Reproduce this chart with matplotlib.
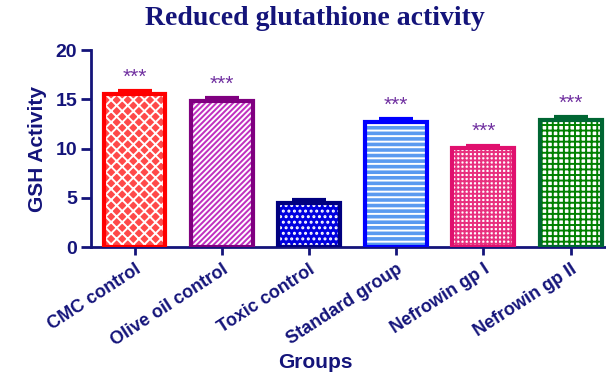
import matplotlib.pyplot as plt
import numpy as np

groups = ["CMC control", "Olive oil control", "Toxic control",
          "Standard group", "Nefrowin gp I", "Nefrowin gp II"]
gsh_mean = [15.5, 14.8, 4.5, 12.7, 10.05, 12.9]
gsh_sem = [0.3, 0.3, 0.3, 0.3, 0.2, 0.3]
significance = ["***", "***", "", "***", "***", "***"]

edge_colors = ["#ff0000", "#800080", "#000080", "#0000ff", "#e0106e", "#006633"]
fill_colors = ["#ff4a4a", "#c030c0", "#0000e0", "#5a9af0", "#ffffff", "#ffffff"]
hatch_colors = ["#ffffff", "#ffffff", "#ffffff", "#ffffff", "#e8307e", "#008000"]
hatches = ["xxx", "//////", "...", "---", "++++", "+++"]

NAVY = "#14147a"
STAR = "#7030a0"

plt.rcParams["font.family"] = ["Liberation Sans", "DejaVu Sans"]
plt.rcParams["hatch.linewidth"] = 1.4

fig = plt.figure(figsize=(6.06, 3.76), dpi=100)
ax = fig.add_axes([0.150, 0.343, 0.850, 0.524])

x = np.arange(len(groups))
width = 0.71

# hatched fill first, then a thick outline on top
for i in range(len(groups)):
    ax.bar(x[i], gsh_mean[i], width, color=fill_colors[i], edgecolor=hatch_colors[i],
           hatch=hatches[i], linewidth=0, zorder=2)
    ax.bar(x[i], gsh_mean[i], width, fill=False, edgecolor=edge_colors[i],
           linewidth=3, zorder=3)
    ax.errorbar(x[i], gsh_mean[i], yerr=[[0], [gsh_sem[i]]], color=edge_colors[i],
                capsize=12, capthick=3, elinewidth=3, zorder=1)
    if significance[i]:
        ax.text(x[i], gsh_mean[i] + 1.7, significance[i], color=STAR,
                fontsize=15, ha="center", va="center")

ax.set_xlim(-0.5, 5.406)
ax.set_ylim(0, 20)
ax.set_yticks([0, 5, 10, 15, 20])
ax.set_xticks(x)
ax.set_xticklabels(groups, rotation=33, ha="right", rotation_mode="anchor",
                   fontsize=13, fontweight="bold", color=NAVY)

for side in ["top", "right"]:
    ax.spines[side].set_visible(False)
for side in ["left", "bottom"]:
    ax.spines[side].set_color(NAVY)
    ax.spines[side].set_linewidth(2)

ax.tick_params(axis="y", colors=NAVY, length=7, width=2, labelsize=14, pad=3)
ax.tick_params(axis="x", colors=NAVY, length=6, width=2, pad=4)
for lbl in ax.get_yticklabels():
    lbl.set_fontweight("bold")

ax.set_ylabel("GSH Activity", fontsize=15, fontweight="bold", color=NAVY, labelpad=6)
fig.text(0.52, 0.035, "Groups", fontsize=15, fontweight="bold", color=NAVY,
         ha="center", va="center")
fig.text(0.52, 0.950, "Reduced glutathione activity", family="Liberation Serif",
         fontsize=20, fontweight="bold", color=NAVY, ha="center", va="center")

fig.savefig("out.png", dpi=100)
